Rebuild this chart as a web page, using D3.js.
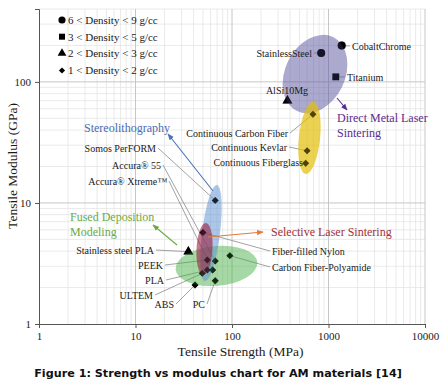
<!DOCTYPE html>
<html>
<head>
<meta charset="utf-8">
<script src="https://cdn.jsdelivr.net/npm/d3@7"></script>
<style>
  body { margin: 0; background: #fff; }
  svg { display: block; }
</style>
</head>
<body>
<div id="chart"></div>
<script>
// data: tensile strength (MPa) vs tensile modulus (GPa)
const materials = ['CobaltChrome', 'StainlessSteel', 'Titanium', 'AlSi10Mg',
  'Continuous Carbon Fiber', 'Continuous Kevlar', 'Continuous Fiberglass',
  'Somos PerFORM', 'Accura® 55', 'Accura® Xtreme™', 'Fiber-filled Nylon', 'PEEK',
  'Stainless steel PLA', 'Carbon Fiber-Polyamide', 'PLA', 'ULTEM', 'ABS', 'PC']
const strength = [1370, 840, 1190, 375, 690, 600, 580, 67, 67, 63, 50, 55.5, 35.3, 95, 55.5, 49.2, 41.4, 67]
const modulus = [200, 173, 110, 70, 54, 27, 21.3, 10.5, 3.32, 2.79, 5.7, 3.38, 3.96, 3.67, 2.79, 2.62, 2.1, 2.28]
const density = [0, 0, 1, 2, 3, 3, 3, 3, 3, 3, 3, 3, 2, 3, 3, 3, 3, 3]

const densityClasses = ['6 < Density < 9 g/cc', '3 < Density < 5 g/cc', '2 < Density < 3 g/cc', '1 < Density < 2 g/cc']

// process regions: centre (MPa, GPa), half axes in decades, tilt in degrees
const processes = ['Direct Metal Laser Sintering', 'Continuous Fiber', 'Fused Deposition Modeling', 'Stereolithography', 'Selective Laser Sintering']
const procStrength = [725, 635, 69, 60.6, 51.9]
const procModulus = [116, 34.4, 3.02, 5.65, 4.17]
const procRx = [0.31, 0.11, 0.425, 0.093, 0.083]
const procRy = [0.34, 0.30, 0.165, 0.40, 0.215]
const procTilt = [26, 6, -5, 7, 3]

const xTicks = [1, 10, 100, 1000, 10000]
const yTicks = [1, 10, 100]

// ---- layout / styling ----
const W = 445, H = 387
const margin = {top: 9, left: 39, right: 20, bottom: 63}
const plotW = W - margin.left - margin.right
const plotH = H - margin.top - margin.bottom
const SERIF = '"Liberation Serif", "Times New Roman", Tinos, "DejaVu Serif", serif'

// regions sit on top of the markers, so the dots take their tint
const procFill = ['#57539c', '#e2bf08', '#45ad45', '#5a8ed0', '#9a2040']
const procOpacity = [0.5, 0.7, 0.48, 0.5, 0.6]

// label placement in pixels: anchor, x, y (text centre)
const labelPos = {
  'CobaltChrome': ['start', 352, 46],
  'StainlessSteel': ['end', 312, 53],
  'Titanium': ['start', 347, 77],
  'AlSi10Mg': ['middle', 287, 90],
  'Continuous Carbon Fiber': ['end', 288, 133],
  'Continuous Kevlar': ['end', 287, 147],
  'Continuous Fiberglass': ['end', 303, 162],
  'Somos PerFORM': ['end', 156, 148],
  'Accura® 55': ['end', 161, 165],
  'Accura® Xtreme™': ['end', 167, 181],
  'Fiber-filled Nylon': ['start', 272, 251],
  'PEEK': ['end', 163, 265],
  'Stainless steel PLA': ['end', 154, 250],
  'Carbon Fiber-Polyamide': ['start', 272, 267],
  'PLA': ['end', 164, 280],
  'ULTEM': ['end', 153, 295],
  'ABS': ['end', 174, 304],
  'PC': ['end', 205, 304],
}

// process callouts: text lines, x, first line y, colour, arrow [x1,y1,x2,y2], arrow colour
const callouts = [
  {lines: ['Direct Metal Laser', 'Sintering'], x: 337, y: 118, color: '#5b2c8f', arrow: [337, 98, 347, 110], arrowColor: '#5b2c8f'},
  {lines: ['Stereolithography'], x: 84, y: 128, color: '#4a6cb4', arrow: [213, 191, 168, 134], arrowColor: '#4a72b8'},
  {lines: ['Fused Deposition', 'Modeling'], x: 70, y: 217, color: '#6aaa44', arrow: [177, 245, 153, 225], arrowColor: '#6aaa44'},
  {lines: ['Selective Laser Sintering'], x: 271, y: 232, color: '#a3303a', arrow: [208, 237, 263, 232], arrowColor: '#e07b39'},
]

const svg = d3.select('#chart').append('svg')
  .attr('width', W)
  .attr('height', H)

const defs = svg.append('defs')

const g = svg.append('g')
  .attr('transform', `translate(${margin.left},${margin.top})`)

const x = d3.scaleLog().domain([1, 10000]).range([0, plotW])
const y = d3.scaleLog().domain([1, 400]).range([plotH, 0])

// grid
const minorX = []
for (let d = 1; d < 10000; d *= 10) for (let k = 2; k <= 9; k++) minorX.push(d * k)
const minorY = []
for (let d = 1; d < 1000; d *= 10) for (let k = 2; k <= 9; k++) if (d * k <= 400) minorY.push(d * k)

const grid = g.append('g').attr('class', 'grid')
grid.selectAll('.minor-x').data(minorX).join('line')
  .attr('x1', d => x(d)).attr('x2', d => x(d))
  .attr('y1', 0).attr('y2', plotH)
  .attr('stroke', '#e4e4e4').attr('stroke-width', 0.8)
grid.selectAll('.minor-y').data(minorY).join('line')
  .attr('y1', d => y(d)).attr('y2', d => y(d))
  .attr('x1', 0).attr('x2', plotW)
  .attr('stroke', '#e4e4e4').attr('stroke-width', 0.8)
grid.selectAll('.major-x').data(xTicks.slice(1)).join('line')
  .attr('x1', d => x(d)).attr('x2', d => x(d))
  .attr('y1', 0).attr('y2', plotH)
  .attr('stroke', '#c6c6c6').attr('stroke-width', 1)
grid.selectAll('.major-y').data(yTicks.slice(1)).join('line')
  .attr('y1', d => y(d)).attr('y2', d => y(d))
  .attr('x1', 0).attr('x2', plotW)
  .attr('stroke', '#c6c6c6').attr('stroke-width', 1)

// axes
const xAxis = d3.axisBottom(x).tickValues(xTicks).tickFormat(d3.format('d')).tickSize(4).tickPadding(4)
const yAxis = d3.axisLeft(y).tickValues(yTicks).tickFormat(d3.format('d')).tickSize(4).tickPadding(4)

g.append('g').attr('class', 'axis axis-x')
  .attr('transform', `translate(0,${plotH})`)
  .call(xAxis)
g.append('g').attr('class', 'axis axis-y')
  .call(yAxis)

g.selectAll('.axis').attr('font-family', SERIF).attr('font-size', 11)
g.selectAll('.axis path, .axis line').attr('stroke', '#555')
g.selectAll('.axis text').attr('fill', '#222')

// leader lines
const pts = materials.map((m, i) => ({name: m, sx: strength[i], my: modulus[i], cls: density[i]}))

g.append('g').attr('class', 'leaders')
  .selectAll('line').data(pts.filter(d => labelPos[d.name][0] !== 'middle')).join('line')
  .attr('x1', d => {
    const [a, lx] = labelPos[d.name]
    return (a === 'end' ? lx + 2 : lx - 2) - margin.left
  })
  .attr('y1', d => labelPos[d.name][2] - margin.top)
  .attr('x2', d => x(d.sx))
  .attr('y2', d => y(d.my))
  .attr('stroke', '#8a8a8a')
  .attr('stroke-width', 0.8)

// markers
const symbols = [d3.symbolCircle, d3.symbolSquare, d3.symbolTriangle, d3.symbolSquare]
const symSize = [50, 45, 42, 24]
const symRot = [0, 0, 0, 45]

const drawMarkers = (cls, opacity) => {
  g.append('g').attr('class', cls)
    .selectAll('path').data(pts).join('path')
    .attr('d', d => d3.symbol(symbols[d.cls], symSize[d.cls])())
    .attr('transform', d => `translate(${x(d.sx)},${y(d.my)}) rotate(${symRot[d.cls]})`)
    .attr('fill', '#000')
    .attr('fill-opacity', opacity)
}

drawMarkers('markers', 1)

// process regions drawn over the markers, semi transparent
const regions = processes.map((p, i) => ({
  name: p,
  cx: x(procStrength[i]),
  cy: y(procModulus[i]),
  rx: x(procStrength[i] * Math.pow(10, procRx[i])) - x(procStrength[i]),
  ry: y(procModulus[i]) - y(procModulus[i] * Math.pow(10, procRy[i])),
  tilt: procTilt[i],
  fill: procFill[i],
  op: procOpacity[i],
}))

g.append('g').attr('class', 'regions')
  .selectAll('ellipse').data(regions).join('ellipse')
  .attr('transform', d => `translate(${d.cx},${d.cy}) rotate(${d.tilt})`)
  .attr('rx', d => d.rx)
  .attr('ry', d => d.ry)
  .attr('fill', d => d.fill)
  .attr('fill-opacity', d => d.op)

// second faint pass so the dots stay dark inside the regions
drawMarkers('markers-top', 0.5)

// material labels
svg.append('g').attr('class', 'labels')
  .attr('font-family', SERIF)
  .attr('font-size', 10)
  .selectAll('text').data(pts).join('text')
  .attr('x', d => labelPos[d.name][1])
  .attr('y', d => labelPos[d.name][2])
  .attr('dy', '0.35em')
  .attr('text-anchor', d => labelPos[d.name][0])
  .attr('fill', '#1a1a1a')
  .text(d => d.name)

// callout arrows and process names
callouts.forEach((c, i) => {
  defs.append('marker')
    .attr('id', 'arrow' + i)
    .attr('viewBox', '0 0 10 10')
    .attr('refX', 9).attr('refY', 5)
    .attr('markerWidth', 6).attr('markerHeight', 6)
    .attr('orient', 'auto')
    .append('path')
    .attr('d', 'M0,1 L10,5 L0,9 Z')
    .attr('fill', c.arrowColor)

  const [x1, y1, x2, y2] = c.arrow
  svg.append('line')
    .attr('x1', x1).attr('y1', y1).attr('x2', x2).attr('y2', y2)
    .attr('stroke', c.arrowColor)
    .attr('stroke-width', 1.1)
    .attr('marker-end', `url(#arrow${i})`)

  svg.append('text')
    .attr('x', c.x)
    .attr('y', c.y)
    .attr('fill', c.color)
    .attr('font-family', SERIF)
    .attr('font-size', 12)
    .selectAll('tspan').data(c.lines).join('tspan')
    .attr('x', c.x)
    .attr('dy', (d, j) => j === 0 ? '0.35em' : '1.2em')
    .text(d => d)
})

// legend
const legend = svg.append('g').attr('class', 'legend')
  .attr('font-family', SERIF)
  .attr('font-size', 11)
const legendY = [20, 36.7, 53.3, 70.5]
densityClasses.forEach((label, i) => {
  legend.append('path')
    .attr('d', d3.symbol(symbols[i], symSize[i] * 0.8)())
    .attr('transform', `translate(62,${legendY[i]}) rotate(${symRot[i]})`)
    .attr('fill', '#000')
  legend.append('text')
    .attr('x', 68)
    .attr('y', legendY[i])
    .attr('dy', '0.35em')
    .attr('fill', '#1a1a1a')
    .text(label)
})

// axis titles
svg.append('text')
  .attr('x', 240.5)
  .attr('y', 351.5)
  .attr('dy', '0.35em')
  .attr('text-anchor', 'middle')
  .attr('font-family', SERIF)
  .attr('font-size', 13.5)
  .attr('fill', '#1a1a1a')
  .text('Tensile Strength (MPa)')

svg.append('text')
  .attr('transform', 'translate(12,166) rotate(-90)')
  .attr('dy', '0.35em')
  .attr('text-anchor', 'middle')
  .attr('font-family', SERIF)
  .attr('font-size', 13.5)
  .attr('fill', '#1a1a1a')
  .text('Tensile Modulus (GPa)')

// caption
svg.append('text')
  .attr('x', 218)
  .attr('y', 373)
  .attr('dy', '0.35em')
  .attr('text-anchor', 'middle')
  .attr('font-family', '"DejaVu Sans", Verdana, sans-serif')
  .attr('font-weight', 'bold')
  .attr('font-size', 11.2)
  .attr('fill', '#111')
  .text('Figure 1: Strength vs modulus chart for AM materials [14]')
</script>
</body>
</html>
